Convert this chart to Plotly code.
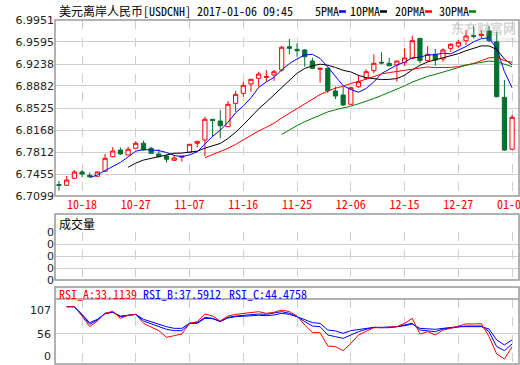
import plotly.graph_objects as go
import pandas as pd

# ---------------- data ----------------
dates = [
    "2016-10-13", "2016-10-14", "2016-10-17", "2016-10-18", "2016-10-19", "2016-10-20", "2016-10-21",
    "2016-10-24", "2016-10-25", "2016-10-26", "2016-10-27", "2016-10-28", "2016-10-31",
    "2016-11-01", "2016-11-02", "2016-11-03", "2016-11-04", "2016-11-07", "2016-11-08", "2016-11-09",
    "2016-11-10", "2016-11-11", "2016-11-14", "2016-11-15", "2016-11-16", "2016-11-17", "2016-11-18",
    "2016-11-21", "2016-11-22", "2016-11-23", "2016-11-24", "2016-11-25", "2016-11-28", "2016-11-29",
    "2016-11-30",
    "2016-12-01", "2016-12-02", "2016-12-05", "2016-12-06", "2016-12-07", "2016-12-08", "2016-12-09",
    "2016-12-12", "2016-12-13", "2016-12-14", "2016-12-15", "2016-12-16", "2016-12-19", "2016-12-20",
    "2016-12-21", "2016-12-22", "2016-12-23", "2016-12-27", "2016-12-28", "2016-12-29", "2016-12-30",
    "2017-01-03", "2017-01-04", "2017-01-05", "2017-01-06",
]

open_ = [6.7285, 6.7272, 6.7386, 6.7488, 6.7434, 6.7418, 6.7499, 6.7736, 6.7844, 6.7763,
         6.7872, 6.7953, 6.7872, 6.7780, 6.7747, 6.7677, 6.7726, 6.7807, 6.7953, 6.8006,
         6.8342, 6.8314, 6.8222, 6.8601, 6.8763, 6.8914, 6.9006, 6.9022, 6.9060, 6.9141,
         6.9518, 6.9476, 6.9465, 6.9287, 6.9152, 6.9168, 6.8800, 6.8736, 6.8585, 6.8870,
         6.9006, 6.9129, 6.9266, 6.9249, 6.9222, 6.9259, 6.9330, 6.9654, 6.9292, 6.9395,
         6.9319, 6.9492, 6.9530, 6.9616, 6.9697, 6.9697, 6.9773, 6.9599, 6.8698, 6.7856]
high = [6.7342, 6.7423, 6.7520, 6.7520, 6.7477, 6.7496, 6.7780, 6.7893, 6.7888, 6.7898,
        6.7990, 6.7995, 6.7898, 6.7856, 6.7768, 6.7763, 6.7747, 6.7942, 6.7990, 6.8384,
        6.8347, 6.8493, 6.8638, 6.8800, 6.8951, 6.8995, 6.9113, 6.9141, 6.9141, 6.9534,
        6.9643, 6.9573, 6.9481, 6.9340, 6.9168, 6.9178, 6.8870, 6.8870, 6.8870, 6.9060,
        6.9152, 6.9395, 6.9428, 6.9340, 6.9287, 6.9492, 6.9697, 6.9654, 6.9530, 6.9481,
        6.9492, 6.9573, 6.9627, 6.9789, 6.9854, 6.9789, 6.9854, 6.9761, 6.8979, 6.8412]
low = [6.7185, 6.7269, 6.7383, 6.7402, 6.7402, 6.7415, 6.7496, 6.7726, 6.7768, 6.7763,
       6.7869, 6.7833, 6.7780, 6.7726, 6.7639, 6.7674, 6.7655, 6.7804, 6.7888, 6.7747,
       6.8055, 6.8034, 6.8222, 6.8465, 6.8708, 6.8789, 6.8870, 6.8951, 6.8962, 6.9113,
       6.9395, 6.9356, 6.9194, 6.9152, 6.8935, 6.8763, 6.8671, 6.8557, 6.8585, 6.8854,
       6.8979, 6.9087, 6.9233, 6.9206, 6.8951, 6.9206, 6.9314, 6.9249, 6.9275, 6.9210,
       6.9275, 6.9437, 6.9492, 6.9546, 6.9654, 6.9654, 6.9590, 6.8698, 6.7833, 6.7844]
close = [6.7272, 6.7358, 6.7488, 6.7455, 6.7412, 6.7488, 6.7710, 6.7828, 6.7780, 6.7856,
         6.7953, 6.7844, 6.7791, 6.7736, 6.7694, 6.7715, 6.7747, 6.7937, 6.7985, 6.8342,
         6.8322, 6.8238, 6.8585, 6.8747, 6.8893, 6.8990, 6.9076, 6.9032, 6.9113, 6.9509,
         6.9492, 6.9453, 6.9356, 6.9168, 6.9168, 6.8805, 6.8719, 6.8574, 6.8854, 6.8951,
         6.9113, 6.9249, 6.9254, 6.9210, 6.9287, 6.9335, 6.9616, 6.9292, 6.9395, 6.9303,
         6.9465, 6.9557, 6.9590, 6.9692, 6.9687, 6.9719, 6.9616, 6.8708, 6.7844, 6.8374]

rsi_a = [None, 100.0, 100.0, 84.4, 66.6, 76.1, 88.9, 92.3, 80.5, 85.6, 87.2, 72.2, 65.5, 59.9, 48.8,
         51.0, 54.3, 72.2, 75.0, 87.8, 84.4, 76.1, 84.4, 87.2, 88.3, 90.0, 91.7, 88.9, 90.6, 94.5,
         91.7, 84.4, 69.4, 56.6, 56.6, 34.3, 33.2, 26.5, 38.7, 52.7, 59.4, 64.9, 64.9, 65.5, 66.6,
         72.2, 80.5, 54.3, 58.2, 52.7, 61.0, 63.8, 67.7, 71.1, 71.1, 71.6, 49.9, 20.9, 12.5, 33.11]
rsi_b = [None, 100.0, 100.0, 86.1, 70.5, 77.8, 88.9, 91.0, 83.3, 85.6, 87.2, 76.1, 71.1, 66.6, 62.2,
         59.9, 59.9, 72.2, 73.3, 82.2, 80.5, 75.0, 82.2, 84.4, 85.6, 86.6, 87.8, 87.2, 88.9, 91.7,
         88.9, 83.3, 75.0, 67.7, 66.6, 52.7, 49.9, 47.1, 52.7, 58.2, 62.2, 65.5, 64.9, 64.9, 66.6,
         69.4, 72.2, 61.0, 59.9, 58.2, 62.7, 64.4, 66.6, 67.7, 67.7, 67.7, 58.2, 33.2, 26.5, 37.59]
rsi_c = [None, 100.0, 100.0, 87.2, 73.3, 78.9, 88.3, 90.6, 84.4, 85.6, 87.2, 78.9, 74.4, 71.1, 66.6,
         63.8, 63.8, 72.2, 72.2, 80.5, 80.0, 75.5, 81.1, 83.3, 84.4, 85.0, 85.6, 85.0, 86.1, 88.9,
         87.2, 83.3, 77.8, 73.3, 72.2, 61.0, 59.4, 55.5, 59.9, 62.2, 63.8, 65.5, 65.5, 65.5, 66.6,
         68.3, 71.1, 63.8, 63.3, 62.2, 63.8, 65.5, 66.6, 66.6, 66.6, 66.6, 62.7, 44.3, 36.0, 44.48]

price_ticks = [6.7099, 6.7455, 6.7812, 6.8168, 6.8525, 6.8882, 6.9238, 6.9595, 6.9951]
tick_dates = ["2016-10-18", "2016-10-27", "2016-11-07", "2016-11-16", "2016-11-25",
              "2016-12-06", "2016-12-15", "2016-12-27", "2017-01-06"]
tick_labels = [d[5:] for d in tick_dates]
vol_tick_labels = ["0", "0", "0", "0", "0"]
rsi_tick_labels = ["107", "56", "0"]
ma_periods = [5, 10, 20, 30]
ma_colors = ["#0000ff", "#000000", "#ff0000", "#008000"]
rsi_names = ["RSI_A:33.1139", "RSI_B:37.5912", "RSI_C:44.4758"]
rsi_colors = ["#ff0000", "#0000ff", "#0000ff"]
title_text = "美元离岸人民币[USDCNH] 2017-01-06 09:45"

# ---------------- geometry helpers ----------------
W, H = 520, 365
L, R = 55, 1
PW = W - L - R


def px(xp):
    return (xp - L) / PW


def py(yp):
    return 1 - yp / H


idx = list(range(len(dates)))
tick_pos = [dates.index(d) for d in tick_dates]
MONO = "Noto Sans Mono CJK SC, Liberation Mono, monospace"
CJK = "Noto Sans Mono CJK SC, Noto Sans CJK SC, sans-serif"
SANS = "DejaVu Sans, sans-serif"
GRID = "#cfcfcf"
BORDER = "#999999"

fig = go.Figure()

fig.add_trace(go.Candlestick(
    x=idx, open=open_, high=high, low=low, close=close,
    increasing=dict(line=dict(color="#ff0000", width=1), fillcolor="#ffffff"),
    decreasing=dict(line=dict(color="#00702e", width=1), fillcolor="#00702e"),
    whiskerwidth=0, showlegend=False, hoverinfo="skip",
    xaxis="x", yaxis="y"))

cs = pd.Series(close)
for n, col in zip(ma_periods, ma_colors):
    ma = cs.rolling(n).mean()
    fig.add_trace(go.Scatter(x=idx, y=ma, mode="lines", line=dict(color=col, width=1),
                             showlegend=False, hoverinfo="skip", xaxis="x", yaxis="y"))

fig.add_trace(go.Scatter(x=[], y=[], xaxis="x2", yaxis="y2", showlegend=False))

for series, col in zip([rsi_c, rsi_b, rsi_a], ["#0000ff", "#0000ff", "#ff0000"]):
    fig.add_trace(go.Scatter(x=idx, y=series, mode="lines", line=dict(color=col, width=1),
                             showlegend=False, hoverinfo="skip", xaxis="x3", yaxis="y3"))

xr = [-0.52, 59.9]
xcommon = dict(range=xr, tickmode="array", tickvals=tick_pos, showgrid=True, gridcolor=GRID,
               griddash="dash", gridwidth=1, zeroline=False, showline=False, ticks="",
               fixedrange=True, automargin=False)

annotations = []
shapes = []

# header
annotations.append(dict(x=px(57), y=py(10), xref="paper", yref="paper", text=title_text,
                        showarrow=False, xanchor="left", yanchor="middle",
                        font=dict(family=CJK, size=12, color="#000000")))
leg_x = [313, 348, 393, 437]
for n, col, lx in zip(ma_periods, ma_colors, leg_x):
    name = f"{n}PMA"
    annotations.append(dict(x=px(lx), y=py(10), xref="paper", yref="paper", text=name,
                            showarrow=False, xanchor="left", yanchor="middle",
                            font=dict(family=MONO, size=12, color="#000000")))
    x0 = lx + 6 * len(name) + 2
    shapes.append(dict(type="line", xref="paper", yref="paper", x0=px(x0), x1=px(x0 + 7),
                       y0=py(11.5), y1=py(11.5), line=dict(color=col, width=2.5)))

# watermark
annotations.append(dict(x=px(483), y=py(27), xref="paper", yref="paper", text="<b>东方财富网</b>",
                        showarrow=False, xanchor="center", yanchor="middle",
                        font=dict(family="Noto Sans CJK SC", size=13, color="rgba(160,160,160,0.45)")))
annotations.append(dict(x=px(488), y=py(40), xref="paper", yref="paper", text="eastmoney.com",
                        showarrow=False, xanchor="center", yanchor="middle",
                        font=dict(family=SANS, size=7, color="rgba(160,160,160,0.45)")))

# panel borders
for top, bot in [(20, 196), (214, 280), (287, 364)]:
    shapes.append(dict(type="rect", xref="paper", yref="paper", x0=0, x1=1, y0=py(bot), y1=py(top),
                       line=dict(color=BORDER, width=1.5), layer="above"))
shapes.append(dict(type="line", xref="paper", yref="paper", x0=0, x1=1, y0=py(299), y1=py(299),
                   line=dict(color=BORDER, width=1.5)))

# volume title
annotations.append(dict(x=px(57), y=py(223.5), xref="paper", yref="paper", text="成交量",
                        showarrow=False, xanchor="left", yanchor="middle",
                        font=dict(family=CJK, size=12, color="#000000")))
# RSI title
rsi_x = [57, 141, 227]
for t, c, rx in zip(rsi_names, rsi_colors, rsi_x):
    annotations.append(dict(x=px(rx), y=py(293), xref="paper", yref="paper", text=t,
                            showarrow=False, xanchor="left", yanchor="middle",
                            font=dict(family=MONO, size=12, color=c)))
# RSI axis labels
for t, yy in zip(rsi_tick_labels, [310, 334, 356]):
    annotations.append(dict(x=px(53), y=py(yy), xref="paper", yref="paper", text=t,
                            showarrow=False, xanchor="right", yanchor="middle",
                            font=dict(family=SANS, size=11, color="#222222")))

fig.update_layout(
    width=W, height=H,
    margin=dict(l=L, r=R, t=0, b=0, autoexpand=False),
    paper_bgcolor="#ffffff", plot_bgcolor="#ffffff",
    showlegend=False,
    boxgap=0.22,
    xaxis=dict(xcommon, domain=[0, 1], anchor="y", ticktext=tick_labels, showticklabels=True,
               ticklabeloverflow="allow",
               tickfont=dict(family=MONO, size=12, color="#ff0000"),
               rangeslider=dict(visible=False)),
    yaxis=dict(domain=[py(196), py(20)], range=[price_ticks[0], price_ticks[-1]],
               tickmode="array", tickvals=price_ticks,
               ticktext=[f"{v:.4f}" for v in price_ticks],
               showgrid=True, gridcolor=GRID, gridwidth=1, zeroline=False, ticks="",
               tickfont=dict(family=SANS, size=11, color="#222222"), anchor="x",
               fixedrange=True, automargin=False),
    xaxis2=dict(xcommon, domain=[0, 1], anchor="y2", showticklabels=False),
    yaxis2=dict(domain=[py(280), py(232)], range=[0, 4], tickmode="array",
                tickvals=list(range(len(vol_tick_labels))), ticktext=vol_tick_labels,
                showgrid=True, gridcolor=GRID, zeroline=False, ticks="",
                tickfont=dict(family=SANS, size=11, color="#222222"), anchor="x2",
                fixedrange=True, automargin=False),
    xaxis3=dict(xcommon, domain=[0, 1], anchor="y3", showticklabels=False),
    yaxis3=dict(domain=[py(364), py(299)], range=[4.18, 112.88], tickmode="array",
                tickvals=[56], showticklabels=False, showgrid=True, gridcolor=GRID,
                zeroline=False, ticks="", anchor="x3", fixedrange=True, automargin=False),
    annotations=annotations,
    shapes=shapes,
)

fig.write_html("out.html", config={"displayModeBar": False},
               post_script="document.body.style.margin='0px';document.body.style.overflow='hidden';")
